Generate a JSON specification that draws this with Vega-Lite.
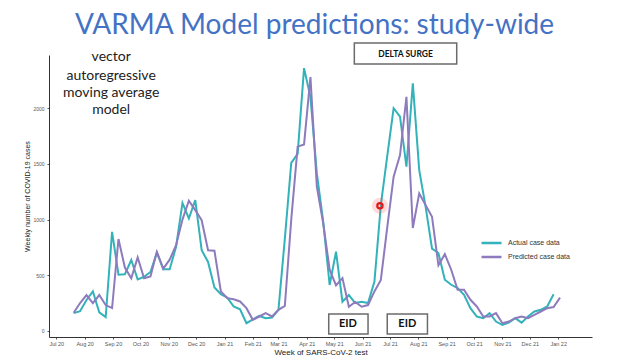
{
  "$schema": "https://vega.github.io/schema/vega-lite/v6.json",
  "width": 543,
  "height": 282,
  "autosize": {"type": "none"},
  "padding": {"left": 49, "top": 55, "right": 28, "bottom": 23},
  "background": "white",
  "title": {
    "text": "VARMA Model predictions: study-wide",
    "font": "Lato",
    "fontSize": 28,
    "fontWeight": "normal",
    "color": "#4472C4",
    "anchor": "middle",
    "frame": "group",
    "dx": -6,
    "offset": 2
  },
  "config": {
    "view": {"stroke": null},
    "axis": {"grid": false}
  },
  "datasets": {
    "series": [
      {"date": "2020-07-20", "value": 160, "series": "Actual case data"},
      {"date": "2020-07-27", "value": 178, "series": "Actual case data"},
      {"date": "2020-08-03", "value": 278, "series": "Actual case data"},
      {"date": "2020-08-10", "value": 355, "series": "Actual case data"},
      {"date": "2020-08-17", "value": 168, "series": "Actual case data"},
      {"date": "2020-08-24", "value": 125, "series": "Actual case data"},
      {"date": "2020-08-31", "value": 890, "series": "Actual case data"},
      {"date": "2020-09-07", "value": 505, "series": "Actual case data"},
      {"date": "2020-09-14", "value": 510, "series": "Actual case data"},
      {"date": "2020-09-21", "value": 637, "series": "Actual case data"},
      {"date": "2020-09-28", "value": 464, "series": "Actual case data"},
      {"date": "2020-10-05", "value": 487, "series": "Actual case data"},
      {"date": "2020-10-12", "value": 530, "series": "Actual case data"},
      {"date": "2020-10-19", "value": 705, "series": "Actual case data"},
      {"date": "2020-10-26", "value": 555, "series": "Actual case data"},
      {"date": "2020-11-02", "value": 555, "series": "Actual case data"},
      {"date": "2020-11-09", "value": 755, "series": "Actual case data"},
      {"date": "2020-11-16", "value": 1150, "series": "Actual case data"},
      {"date": "2020-11-23", "value": 1010, "series": "Actual case data"},
      {"date": "2020-11-30", "value": 1175, "series": "Actual case data"},
      {"date": "2020-12-07", "value": 725, "series": "Actual case data"},
      {"date": "2020-12-14", "value": 620, "series": "Actual case data"},
      {"date": "2020-12-21", "value": 390, "series": "Actual case data"},
      {"date": "2020-12-28", "value": 330, "series": "Actual case data"},
      {"date": "2021-01-04", "value": 300, "series": "Actual case data"},
      {"date": "2021-01-11", "value": 220, "series": "Actual case data"},
      {"date": "2021-01-18", "value": 195, "series": "Actual case data"},
      {"date": "2021-01-25", "value": 70, "series": "Actual case data"},
      {"date": "2021-02-01", "value": 105, "series": "Actual case data"},
      {"date": "2021-02-08", "value": 135, "series": "Actual case data"},
      {"date": "2021-02-15", "value": 115, "series": "Actual case data"},
      {"date": "2021-02-22", "value": 120, "series": "Actual case data"},
      {"date": "2021-03-01", "value": 190, "series": "Actual case data"},
      {"date": "2021-03-08", "value": 830, "series": "Actual case data"},
      {"date": "2021-03-15", "value": 1510, "series": "Actual case data"},
      {"date": "2021-03-22", "value": 1590, "series": "Actual case data"},
      {"date": "2021-03-29", "value": 2360, "series": "Actual case data"},
      {"date": "2021-04-05", "value": 2100, "series": "Actual case data"},
      {"date": "2021-04-12", "value": 1415, "series": "Actual case data"},
      {"date": "2021-04-19", "value": 980, "series": "Actual case data"},
      {"date": "2021-04-26", "value": 413, "series": "Actual case data"},
      {"date": "2021-05-03", "value": 712, "series": "Actual case data"},
      {"date": "2021-05-10", "value": 263, "series": "Actual case data"},
      {"date": "2021-05-17", "value": 323, "series": "Actual case data"},
      {"date": "2021-05-24", "value": 251, "series": "Actual case data"},
      {"date": "2021-05-31", "value": 263, "series": "Actual case data"},
      {"date": "2021-06-07", "value": 251, "series": "Actual case data"},
      {"date": "2021-06-14", "value": 443, "series": "Actual case data"},
      {"date": "2021-06-21", "value": 1131, "series": "Actual case data"},
      {"date": "2021-06-28", "value": 1570, "series": "Actual case data"},
      {"date": "2021-07-05", "value": 2000, "series": "Actual case data"},
      {"date": "2021-07-12", "value": 1924, "series": "Actual case data"},
      {"date": "2021-07-19", "value": 1475, "series": "Actual case data"},
      {"date": "2021-07-26", "value": 2223, "series": "Actual case data"},
      {"date": "2021-08-02", "value": 1445, "series": "Actual case data"},
      {"date": "2021-08-09", "value": 1115, "series": "Actual case data"},
      {"date": "2021-08-16", "value": 740, "series": "Actual case data"},
      {"date": "2021-08-23", "value": 700, "series": "Actual case data"},
      {"date": "2021-08-30", "value": 460, "series": "Actual case data"},
      {"date": "2021-09-06", "value": 415, "series": "Actual case data"},
      {"date": "2021-09-13", "value": 385, "series": "Actual case data"},
      {"date": "2021-09-20", "value": 325, "series": "Actual case data"},
      {"date": "2021-09-27", "value": 205, "series": "Actual case data"},
      {"date": "2021-10-04", "value": 130, "series": "Actual case data"},
      {"date": "2021-10-11", "value": 115, "series": "Actual case data"},
      {"date": "2021-10-18", "value": 160, "series": "Actual case data"},
      {"date": "2021-10-25", "value": 85, "series": "Actual case data"},
      {"date": "2021-11-01", "value": 55, "series": "Actual case data"},
      {"date": "2021-11-08", "value": 75, "series": "Actual case data"},
      {"date": "2021-11-15", "value": 115, "series": "Actual case data"},
      {"date": "2021-11-22", "value": 75, "series": "Actual case data"},
      {"date": "2021-11-29", "value": 130, "series": "Actual case data"},
      {"date": "2021-12-06", "value": 175, "series": "Actual case data"},
      {"date": "2021-12-13", "value": 190, "series": "Actual case data"},
      {"date": "2021-12-20", "value": 220, "series": "Actual case data"},
      {"date": "2021-12-27", "value": 330, "series": "Actual case data"},
      {"date": "2020-07-20", "value": 164, "series": "Predicted case data"},
      {"date": "2020-07-27", "value": 251, "series": "Predicted case data"},
      {"date": "2020-08-03", "value": 323, "series": "Predicted case data"},
      {"date": "2020-08-10", "value": 251, "series": "Predicted case data"},
      {"date": "2020-08-17", "value": 323, "series": "Predicted case data"},
      {"date": "2020-08-24", "value": 233, "series": "Predicted case data"},
      {"date": "2020-08-31", "value": 206, "series": "Predicted case data"},
      {"date": "2020-09-07", "value": 826, "series": "Predicted case data"},
      {"date": "2020-09-14", "value": 570, "series": "Predicted case data"},
      {"date": "2020-09-21", "value": 473, "series": "Predicted case data"},
      {"date": "2020-09-28", "value": 661, "series": "Predicted case data"},
      {"date": "2020-10-05", "value": 473, "series": "Predicted case data"},
      {"date": "2020-10-12", "value": 490, "series": "Predicted case data"},
      {"date": "2020-10-19", "value": 710, "series": "Predicted case data"},
      {"date": "2020-10-26", "value": 560, "series": "Predicted case data"},
      {"date": "2020-11-02", "value": 640, "series": "Predicted case data"},
      {"date": "2020-11-09", "value": 770, "series": "Predicted case data"},
      {"date": "2020-11-16", "value": 1000, "series": "Predicted case data"},
      {"date": "2020-11-23", "value": 1170, "series": "Predicted case data"},
      {"date": "2020-11-30", "value": 1085, "series": "Predicted case data"},
      {"date": "2020-12-07", "value": 995, "series": "Predicted case data"},
      {"date": "2020-12-14", "value": 725, "series": "Predicted case data"},
      {"date": "2020-12-21", "value": 720, "series": "Predicted case data"},
      {"date": "2020-12-28", "value": 355, "series": "Predicted case data"},
      {"date": "2021-01-04", "value": 295, "series": "Predicted case data"},
      {"date": "2021-01-11", "value": 285, "series": "Predicted case data"},
      {"date": "2021-01-18", "value": 265, "series": "Predicted case data"},
      {"date": "2021-01-25", "value": 205, "series": "Predicted case data"},
      {"date": "2021-02-01", "value": 100, "series": "Predicted case data"},
      {"date": "2021-02-08", "value": 130, "series": "Predicted case data"},
      {"date": "2021-02-15", "value": 160, "series": "Predicted case data"},
      {"date": "2021-02-22", "value": 130, "series": "Predicted case data"},
      {"date": "2021-03-01", "value": 190, "series": "Predicted case data"},
      {"date": "2021-03-08", "value": 225, "series": "Predicted case data"},
      {"date": "2021-03-15", "value": 1000, "series": "Predicted case data"},
      {"date": "2021-03-22", "value": 1655, "series": "Predicted case data"},
      {"date": "2021-03-29", "value": 1675, "series": "Predicted case data"},
      {"date": "2021-04-05", "value": 2280, "series": "Predicted case data"},
      {"date": "2021-04-12", "value": 1295, "series": "Predicted case data"},
      {"date": "2021-04-19", "value": 965, "series": "Predicted case data"},
      {"date": "2021-04-26", "value": 550, "series": "Predicted case data"},
      {"date": "2021-05-03", "value": 410, "series": "Predicted case data"},
      {"date": "2021-05-10", "value": 475, "series": "Predicted case data"},
      {"date": "2021-05-17", "value": 218, "series": "Predicted case data"},
      {"date": "2021-05-24", "value": 260, "series": "Predicted case data"},
      {"date": "2021-05-31", "value": 218, "series": "Predicted case data"},
      {"date": "2021-06-07", "value": 233, "series": "Predicted case data"},
      {"date": "2021-06-14", "value": 355, "series": "Predicted case data"},
      {"date": "2021-06-21", "value": 458, "series": "Predicted case data"},
      {"date": "2021-06-28", "value": 930, "series": "Predicted case data"},
      {"date": "2021-07-05", "value": 1385, "series": "Predicted case data"},
      {"date": "2021-07-12", "value": 1580, "series": "Predicted case data"},
      {"date": "2021-07-19", "value": 2103, "series": "Predicted case data"},
      {"date": "2021-07-26", "value": 925, "series": "Predicted case data"},
      {"date": "2021-08-02", "value": 1235, "series": "Predicted case data"},
      {"date": "2021-08-09", "value": 1130, "series": "Predicted case data"},
      {"date": "2021-08-16", "value": 1025, "series": "Predicted case data"},
      {"date": "2021-08-23", "value": 590, "series": "Predicted case data"},
      {"date": "2021-08-30", "value": 690, "series": "Predicted case data"},
      {"date": "2021-09-06", "value": 550, "series": "Predicted case data"},
      {"date": "2021-09-13", "value": 370, "series": "Predicted case data"},
      {"date": "2021-09-20", "value": 370, "series": "Predicted case data"},
      {"date": "2021-09-27", "value": 280, "series": "Predicted case data"},
      {"date": "2021-10-04", "value": 220, "series": "Predicted case data"},
      {"date": "2021-10-11", "value": 130, "series": "Predicted case data"},
      {"date": "2021-10-18", "value": 130, "series": "Predicted case data"},
      {"date": "2021-10-25", "value": 160, "series": "Predicted case data"},
      {"date": "2021-11-01", "value": 70, "series": "Predicted case data"},
      {"date": "2021-11-08", "value": 85, "series": "Predicted case data"},
      {"date": "2021-11-15", "value": 115, "series": "Predicted case data"},
      {"date": "2021-11-22", "value": 130, "series": "Predicted case data"},
      {"date": "2021-11-29", "value": 115, "series": "Predicted case data"},
      {"date": "2021-12-06", "value": 145, "series": "Predicted case data"},
      {"date": "2021-12-13", "value": 175, "series": "Predicted case data"},
      {"date": "2021-12-20", "value": 205, "series": "Predicted case data"},
      {"date": "2021-12-27", "value": 215, "series": "Predicted case data"},
      {"date": "2022-01-03", "value": 300, "series": "Predicted case data"}
    ],
    "notes": [
      {"date": "2020-08-30", "value": 2460, "label": "vector"},
      {"date": "2020-08-30", "value": 2292, "label": "autoregressive"},
      {"date": "2020-08-30", "value": 2138, "label": "moving average"},
      {"date": "2020-08-30", "value": 1984, "label": "model"}
    ],
    "boxes": [
      {"start": "2021-05-23", "end": "2021-09-12", "low": 2397, "high": 2585, "mid": "2021-07-18", "center": 2491, "label": "DELTA SURGE", "size": 8.5},
      {"start": "2021-04-25", "end": "2021-06-07", "low": -27, "high": 153, "mid": "2021-05-16", "center": 63, "label": "EID", "size": 11},
      {"start": "2021-06-28", "end": "2021-08-11", "low": -27, "high": 153, "mid": "2021-07-20", "center": 63, "label": "EID", "size": 11}
    ],
    "pointer": [
      {"date": "2021-06-20", "value": 1125}
    ]
  },
  "layer": [
    {
      "data": {"name": "series"},
      "mark": {"type": "line", "strokeWidth": 2, "clip": false},
      "encoding": {
        "x": {
          "field": "date",
          "type": "temporal",
          "scale": {"type": "utc", "domain": ["2020-06-23", "2022-02-07"]},
          "axis": {
            "title": "Week of SARS-CoV-2 test",
            "titleFont": "Liberation Sans",
            "titleFontSize": 8,
            "titleFontWeight": "normal",
            "titleColor": "#222",
            "titlePadding": 2,
            "format": "%b %y",
            "tickCount": {"interval": "month", "step": 1},
            "labelExpr": "datum.value > 1641000000000 ? '' : datum.label",
            "tickOpacity": {"condition": {"test": "datum.value > 1641000000000", "value": 0}, "value": 1},
            "labelFont": "Liberation Sans",
            "labelFontSize": 5.5,
            "labelColor": "#555",
            "labelPadding": 2,
            "labelFlush": false,
            "labelOverlap": false,
            "tickSize": 2,
            "tickColor": "#555",
            "domainColor": "#333",
            "domainWidth": 1
          }
        },
        "y": {
          "field": "value",
          "type": "quantitative",
          "scale": {"domain": [-54, 2478], "nice": false, "zero": false},
          "axis": {
            "title": "Weekly number of COVID-19 cases",
            "titleFont": "Liberation Sans",
            "titleFontSize": 7,
            "titleFontWeight": "normal",
            "titleColor": "#222",
            "titlePadding": 2,
            "values": [0, 500, 1000, 1500, 2000],
            "format": "d",
            "labelFont": "Liberation Sans",
            "labelFontSize": 5,
            "labelColor": "#555",
            "labelPadding": 3,
            "tickSize": 2,
            "tickColor": "#555",
            "domainColor": "#333",
            "domainWidth": 1
          }
        },
        "color": {
          "field": "series",
          "type": "nominal",
          "scale": {"domain": ["Actual case data", "Predicted case data"], "range": ["#33B2BA", "#8D7BBD"]},
          "legend": {
            "title": null,
            "orient": "none",
            "legendX": 431,
            "legendY": 182,
            "symbolType": "stroke",
            "symbolSize": 400,
            "symbolStrokeWidth": 2.5,
            "clipHeight": 12,
            "rowPadding": 2,
            "labelFont": "Liberation Sans",
            "labelFontSize": 7,
            "labelColor": "#333",
            "labelOffset": 5
          }
        }
      }
    },
    {
      "data": {"name": "notes"},
      "mark": {"type": "text", "font": "Lato", "fontSize": 14, "color": "#222", "align": "center", "baseline": "middle"},
      "encoding": {
        "x": {"field": "date", "type": "temporal"},
        "y": {"field": "value", "type": "quantitative"},
        "text": {"field": "label"}
      }
    },
    {
      "data": {"name": "boxes"},
      "mark": {"type": "rect", "fill": "white", "stroke": "#6b6b6b", "strokeWidth": 1.5, "clip": false},
      "encoding": {
        "x": {"field": "start", "type": "temporal"},
        "x2": {"field": "end"},
        "y": {"field": "low", "type": "quantitative"},
        "y2": {"field": "high"}
      }
    },
    {
      "data": {"name": "boxes"},
      "mark": {"type": "text", "font": "Lato", "fontWeight": "bold", "color": "#111", "align": "center", "baseline": "middle"},
      "encoding": {
        "x": {"field": "mid", "type": "temporal"},
        "y": {"field": "center", "type": "quantitative"},
        "text": {"field": "label"},
        "size": {"field": "size", "type": "quantitative", "scale": null}
      }
    },
    {
      "data": {"name": "pointer"},
      "mark": {"type": "circle", "size": 260, "color": "#ff3030", "opacity": 0.18},
      "encoding": {
        "x": {"field": "date", "type": "temporal"},
        "y": {"field": "value", "type": "quantitative"}
      }
    },
    {
      "data": {"name": "pointer"},
      "mark": {"type": "point", "shape": "circle", "size": 28, "stroke": "#e01818", "strokeWidth": 2.2, "filled": false, "opacity": 1},
      "encoding": {
        "x": {"field": "date", "type": "temporal"},
        "y": {"field": "value", "type": "quantitative"}
      }
    }
  ]
}
